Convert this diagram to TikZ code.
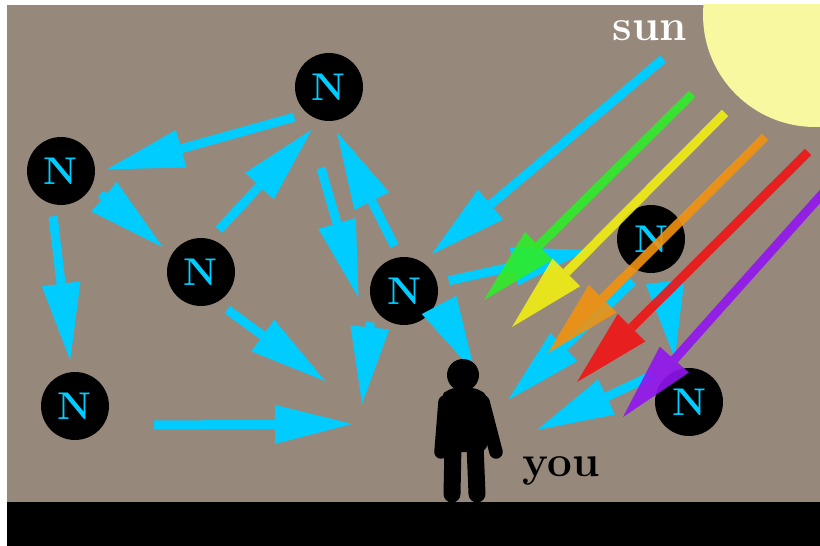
\documentclass[tikz,border=0pt]{standalone}
\usepackage{tikz}
\usetikzlibrary{arrows.meta}
\definecolor{wall}{RGB}{150,137,124}
\definecolor{nucyan}{RGB}{0,204,255}
\definecolor{sunlight}{RGB}{248,248,160}
\definecolor{rgreen}{RGB}{46,236,40}
\definecolor{ryellow}{RGB}{240,238,20}
\definecolor{rorange}{RGB}{240,146,16}
\definecolor{rred}{RGB}{240,20,20}
\definecolor{rpurple}{RGB}{146,20,240}

\begin{document}
\begin{tikzpicture}[x=0.02cm,y=-0.02cm,
  nnode/.style={circle,fill=black,minimum size=1.36cm,inner sep=0pt,outer sep=0.24cm,
    text=nucyan,font=\fontsize{22}{22}\selectfont\bfseries},
  flow/.style={draw=nucyan,line width=0.18cm,
    -{Triangle[length=1.54cm,width=0.78cm,line width=0pt]}},
  ray/.style={line width=0.18cm,-{Triangle[length=1.54cm,width=0.78cm,line width=0pt]}},
  word/.style={font=\fontsize{25}{25}\selectfont\bfseries}]
\useasboundingbox (0,0) rectangle (820,546);
\fill[white] (0,0) rectangle (820,546);
\fill[wall] (7,5) rectangle (820,502);
% sun in the corner
\begin{scope}
  \clip (7,5) rectangle (820,502);
  \fill[sunlight] (815,15) circle (2.24cm);
\end{scope}
\node[word,text=white] (sunlabel) at (650,31) {sun};
% the N's
\node[nnode] (n1) at (329,87) {N};
\node[nnode] (n2) at (61,171) {N};
\node[nnode] (n3) at (201,272) {N};
\node[nnode] (n4) at (404,291) {N};
\node[nnode] (n5) at (651,239) {N};
\node[nnode] (n6) at (75,406) {N};
\node[nnode] (n7) at (689,402) {N};
% loose ends
\coordinate (a4) at (321,168);
\coordinate (m7) at (325,381);
\coordinate (m8) at (362,404);
\coordinate (m9) at (475,373);
\coordinate (a10) at (154,425);
\coordinate (m10) at (352,424);
\coordinate (s11) at (663,59);
\coordinate (m12) at (589,250);
\coordinate (m14) at (508,400);
\coordinate (m15) at (537,430);
% cyan hops
\draw[flow] (n1.221) -- (n2.2);
\draw[flow] (n3.67) -- (n1.248);
\draw[flow] (n2.330) -- (n3.147);
\draw[flow] (a4) -- (n4.188);
\draw[flow] (n4.102) -- (n1.280);
\draw[flow] (n2.260) -- (n6.96);
\draw[flow] (n3.305) -- (m7);
\draw[flow] (n4.223) -- (m8);
\draw[flow] (n4.330) -- (m9);
\draw[flow] (a10) -- (m10);
\draw[flow] (s11) -- (n4.53);
\draw[flow] (n4.13) -- (m12);
\draw[flow] (n5.288) -- (n7.108);
\draw[flow] (n5.247) -- (m14);
\draw[flow] (n7.145) -- (m15);
% rainbow from the sun
\begin{scope}[transparency group,opacity=0.9]
  \clip (7,5) rectangle (820,502);
  \coordinate (g0) at (692,94);  \coordinate (g1) at (484,300);
  \coordinate (y0) at (725,113); \coordinate (y1) at (512,327);
  \coordinate (o0) at (765,137); \coordinate (o1) at (548,353);
  \coordinate (r0) at (808,152); \coordinate (r1) at (577,382);
  \coordinate (p0) at (832,183); \coordinate (p1) at (623,417);
  \draw[ray,rgreen] (g0) -- (g1);
  \draw[ray,ryellow] (y0) -- (y1);
  \draw[ray,rorange] (o0) -- (o1);
  \draw[ray,rred] (r0) -- (r1);
  \draw[ray,rpurple] (p0) -- (p1);
\end{scope}
% you
\fill (463,375) circle (0.32cm);
\fill[rounded corners=0.16cm] (448,388) -- (479,388) -- (489,398) -- (487,452)
  -- (445,452) -- (440,398) -- cycle;
\draw[line width=0.27cm,line cap=round] (445,402) -- (441,452);
\draw[line width=0.27cm,line cap=round] (483,402) -- (496,452);
\draw[line width=0.34cm,line cap=round] (453,445) -- (452,494);
\draw[line width=0.34cm,line cap=round] (475,445) -- (477,494);
\node[word,anchor=base] (youlabel) at (561,476) {you};
% ground
\fill[black] (7,502) rectangle (820,546);
\end{tikzpicture}
\end{document}
